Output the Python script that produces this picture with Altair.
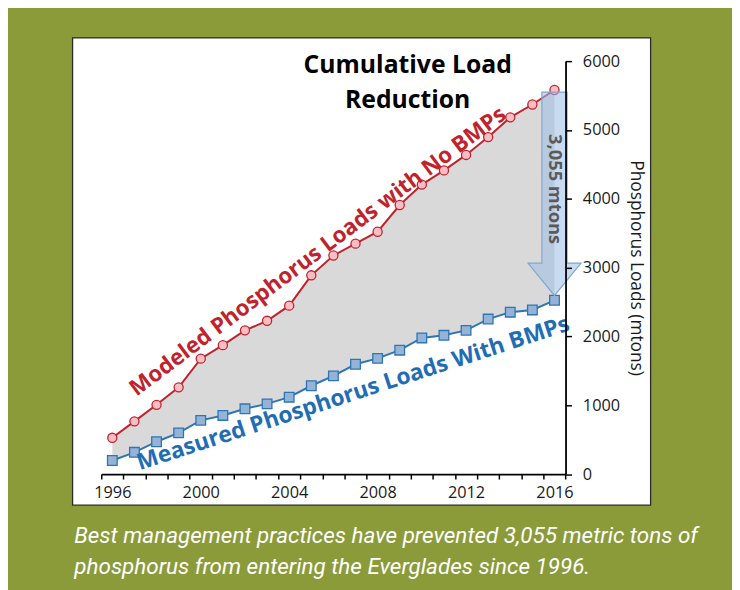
import altair as alt
import pandas as pd

# ---- data ----
years = list(range(1996, 2017))
modeled = [527, 766, 1006, 1260, 1677, 1873, 2088, 2227, 2447, 2888, 3176,
           3348, 3521, 3909, 4206, 4412, 4637, 4896, 5183, 5370, 5580]
measured = [197, 316, 470, 599, 780, 852, 948, 1020, 1117, 1283, 1427,
            1595, 1681, 1800, 1978, 2016, 2088, 2252, 2352, 2385, 2525]
y_ticks = [0, 1000, 2000, 3000, 4000, 5000, 6000]
reduction_label = "3,055 mtons"
title_lines = ["Cumulative Load", "Reduction"]
red_label = "Modeled Phosphorus Loads with No BMPs"
blue_label = "Measured Phosphorus Loads With BMPs"
y_title = "Phosphorus Loads (mtons)"
caption = ["Best management practices have prevented 3,055 metric tons of",
           "phosphorus from entering the Everglades since 1996."]

# ---- layout / style ----
W, H = 469.4, 417.5
RED, RED_FILL = "#c0232c", "#f8bec3"
BLUE, BLUE_FILL, BLUE_TEXT = "#2e75b6", "#95b3d7", "#1f6eb4"
FONT = "Open Sans"

x0, x1 = years[0] - 0.5, years[-1] + 0.5
tick_vals = [y - 0.5 for y in years] + [x1]

x_scale = alt.Scale(domain=[x0, x1], nice=False, zero=False)
y_scale = alt.Scale(domain=[0, 6000], nice=False)
x_axis = alt.Axis(values=tick_vals, title=None, grid=False,
                  labelExpr="(datum.value + 0.5) % 4 == 0 ? format(datum.value + 0.5, 'd') : ''",
                  labelOffset=W / len(years) / 2, labelOverlap=False, labelFlush=False,
                  labelFont=FONT, labelFontSize=16.5, labelColor="#1a1a1a",
                  labelPadding=6, tickSize=5, tickColor="black", tickWidth=1.5,
                  domainColor="black", domainWidth=1.8, zindex=1)
y_axis = alt.Axis(orient="right", values=y_ticks, format="d", title=y_title, grid=False,
                  labelFont=FONT, labelFontSize=16.5, labelColor="#1a1a1a",
                  labelPadding=11, tickSize=6, tickColor="black", tickWidth=1.5,
                  domainColor="black", domainWidth=1.8, labelFlush=False,
                  titleAngle=90, titleFont=FONT, titleFontSize=17.5,
                  titleFontWeight="normal", titleColor="#1a1a1a", titlePadding=7,
                  zindex=1)


def X(field="year"):
    return alt.X(f"{field}:Q", scale=x_scale, axis=x_axis)


def Y(field):
    return alt.Y(f"{field}:Q", scale=y_scale, axis=y_axis)


df = pd.DataFrame({"year": years, "modeled": modeled, "measured": measured})
base = alt.Chart(df)

panel = alt.Chart(alt.Data(values=[{}])).mark_rect(
    fill="white", stroke="#2b2b2b", strokeWidth=1.3
).encode(x=alt.value(-29), x2=alt.value(W + 86),
         y=alt.value(-23.5), y2=alt.value(H + 31.5))

band = base.mark_area(color="#d9d9d9", opacity=1).encode(
    x=X(), y=Y("modeled"), y2="measured:Q")

red_line = base.mark_line(color=RED, strokeWidth=2).encode(x=X(), y=Y("modeled"))
red_pts = base.mark_point(shape="circle", filled=True, fill=RED_FILL, stroke=RED,
                          strokeWidth=1.3, size=85, opacity=1).encode(
    x=X(), y=Y("modeled"))
blue_line = base.mark_line(color=BLUE, strokeWidth=2).encode(x=X(), y=Y("measured"))
blue_pts = base.mark_point(shape="square", filled=True, fill=BLUE_FILL, stroke=BLUE,
                           strokeWidth=1.3, size=95, opacity=1).encode(
    x=X(), y=Y("measured"))

# block arrow from the modeled end value down to the measured end value
cx = years[-1]
top = modeled[-1] - 30
tip = measured[-1] + 70
head_base = tip + 470
s, h, eps = 0.57, 1.2, 0.001
mid = head_base - (h - s) / h * (head_base - tip)
arrow_df = pd.DataFrame({
    "ax": [cx - h, cx - s, cx - s + eps, cx, cx + s - eps, cx + s, cx + h],
    "atop": [head_base, head_base, top, top, top, head_base, head_base],
    "abot": [head_base, mid, mid, tip, mid, mid, head_base],
})
arrow = alt.Chart(arrow_df).mark_area(
    fill="#9dbde6", fillOpacity=0.55, stroke="#7fa7d6", strokeWidth=1.2
).encode(x=X("ax"), y=Y("atop"), y2="abot:Q")

arrow_text = alt.Chart(pd.DataFrame({"tx": [cx], "ty": [4140], "t": [reduction_label]})).mark_text(
    angle=90, font=FONT, fontSize=18.5, fontWeight="bold", color="#5a5a5a",
    align="center", baseline="middle"
).encode(x=X("tx"), y=Y("ty"), text="t:N")

title_df = pd.DataFrame({"tx": [2009.36, 2009.36], "ty": [5940, 5440], "t": title_lines})
title_text = alt.Chart(title_df).mark_text(
    font=FONT, fontSize=25, fontWeight="bold", color="black",
    align="center", baseline="middle"
).encode(x=X("tx"), y=Y("ty"), text="t:N")

red_text = alt.Chart(pd.DataFrame({"tx": [2005.3], "ty": [3233], "t": [red_label]})).mark_text(
    angle=323, font=FONT, fontSize=22.5, fontWeight="bold", color=RED,
    align="center", baseline="middle"
).encode(x=X("tx"), y=Y("ty"), text="t:N")

blue_text = alt.Chart(pd.DataFrame({"tx": [2006.9], "ty": [1170], "t": [blue_label]})).mark_text(
    angle=342, font=FONT, fontSize=23, fontWeight="bold", color=BLUE_TEXT,
    align="center", baseline="middle"
).encode(x=X("tx"), y=Y("ty"), text="t:N")

cap1 = alt.Chart(alt.Data(values=[{}])).mark_text(
    text=caption[0], font="Roboto", fontSize=22.7, fontStyle="italic", color="white",
    align="left", baseline="alphabetic"
).encode(x=alt.value(-27.3), y=alt.value(H + 70))
cap2 = alt.Chart(alt.Data(values=[{}])).mark_text(
    text=caption[1], font="Roboto", fontSize=22.7, fontStyle="italic", color="white",
    align="left", baseline="alphabetic"
).encode(x=alt.value(-27.3), y=alt.value(H + 101))

chart = alt.layer(
    panel, band, red_line, red_pts, blue_line, blue_pts, arrow, arrow_text,
    title_text, red_text, blue_text, cap1, cap2
).properties(
    width=W, height=H, background="#8b9b3a",
    padding={"left": 94.3, "top": 50.5, "right": 168.3, "bottom": 114},
    autosize=alt.AutoSizeParams(type="none"),
).configure_view(stroke=None)

chart.save("out.html", embed_options={"renderer": "svg", "actions": False})
